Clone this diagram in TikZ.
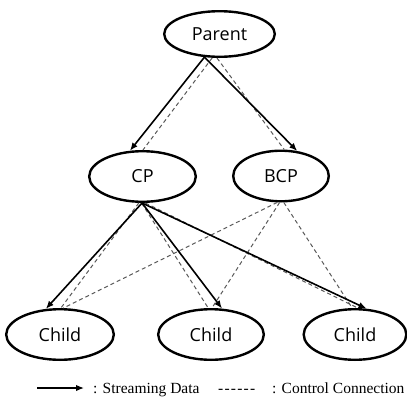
\documentclass[tikz,border=0pt]{standalone}
\usepackage{fontspec}
\setmainfont{Liberation Serif}
\newfontfamily\nodefont{Open Sans}
\usetikzlibrary{shapes.geometric,arrows.meta}
\begin{document}
\begin{tikzpicture}[x=1pt,y=-1pt,
  peer/.style={ellipse,draw=black,line width=2.4pt,inner sep=0pt,
    font=\nodefont\fontsize{18}{20}\selectfont},
  stream/.style={draw=black,line width=1.6pt,-{Latex[length=8pt,width=6.5pt]}},
  control/.style={draw=black!65,line width=1pt,dash pattern=on 4pt off 3pt},
  legendtext/.style={anchor=base west,inner sep=0pt,font=\fontsize{15.5}{18}\selectfont}]
\useasboundingbox (0,0) rectangle (407,399);

% peers
\node[peer,minimum width=110.6pt,minimum height=45.6pt] (parent) at (219.5,34) {Parent};
\node[peer,minimum width=106.6pt,minimum height=50.6pt] (cp) at (142.5,176.5) {CP};
\node[peer,minimum width=95.6pt,minimum height=50.6pt] (bcp) at (281,176) {BCP};
\node[peer,minimum width=107.6pt,minimum height=50.6pt] (c1) at (60,334.5) {Child};
\node[peer,minimum width=105.6pt,minimum height=50.6pt] (c2) at (211,334.5) {Child};
\node[peer,minimum width=102.6pt,minimum height=50.6pt] (c3) at (355,334.5) {Child};

% control connections
\draw[control] (parent.253) -- (cp.89);
\draw[control] (parent.264) -- (bcp.83);
\draw[control] (cp.262) -- (c1.88);
\draw[control] (cp.268) -- (c2.96);
\draw[control] (cp.276) -- (c3.84);
\draw[control] (bcp.262) -- (c1.83);
\draw[control] (bcp.267) -- (c2.88);
\draw[control] (bcp.276) -- (c3.96);

% streaming data
\draw[stream] (parent.237) -- (cp.116);
\draw[stream] (parent.237) -- (bcp.57);
\draw[stream] (cp.269) -- (c1.119);
\draw[stream] (cp.269) -- (c2.67);
\draw[stream] (cp.269) -- (c3.66);

% legend
\coordinate (la) at (37,388);
\coordinate (lb) at (84,388);
\draw[stream,line width=1.4pt] (la) -- (lb);
\node[legendtext] (lstream) at (93,393) {: Streaming Data};
\node[legendtext] (ldash) at (218,393) {-\kern1.2pt{}-\kern1.2pt{}-\kern1.2pt{}-\kern1.2pt{}-\kern1.2pt{}-};
\node[legendtext] (lcontrol) at (272,393) {: Control Connection};
\end{tikzpicture}
\end{document}
